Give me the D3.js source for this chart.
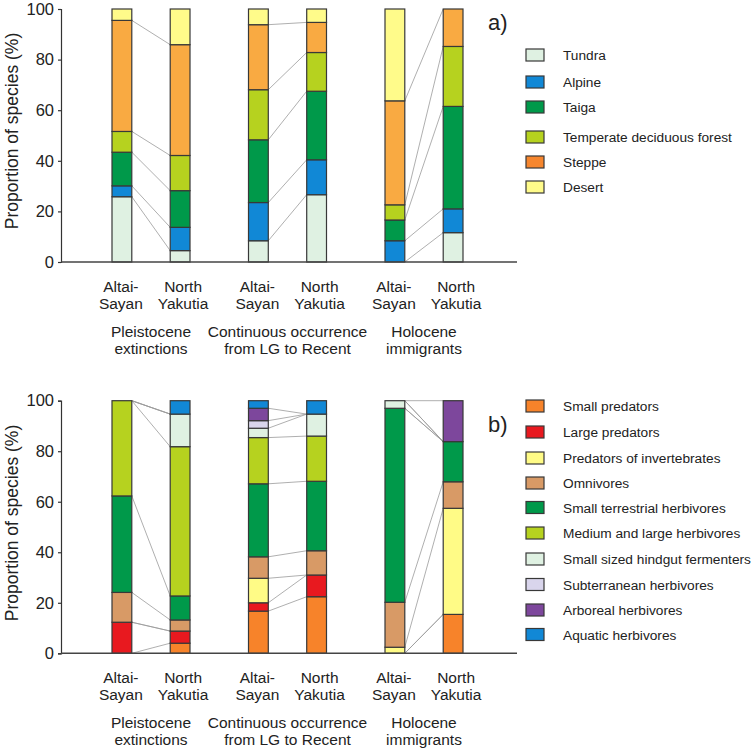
<!DOCTYPE html>
<html><head><meta charset="utf-8">
<script src="https://cdn.jsdelivr.net/npm/d3@7"></script>
<style>body{margin:0;background:#fff;} svg{display:block;font-family:"Liberation Sans",Arial,sans-serif;}</style>
</head><body><svg id="c" width="755" height="754"></svg>
<script>
// ---- data ----
const groups = [["Pleistocene","extinctions"],["Continuous occurrence","from LG to Recent"],["Holocene","immigrants"]];
const sites = [["Altai-","Sayan"],["North","Yakutia"]];
const yTicks = [0,20,40,60,80,100];
// bar order: Pleistocene AS, NY; Continuous AS, NY; Holocene AS, NY
const habitats = ["Tundra","Alpine","Taiga","Temperate deciduous forest","Steppe","Desert"];
const habitatColors = ["#dff1e2","#1188d6","#00994a","#b6d21f","#f9aa42","#fffb8a"];
const habitatLegendColors = ["#dff1e2","#1188d6","#00994a","#b6d21f","#f6862e","#fffb8a"];
const tundra    = [25.8, 4.5, 8.4, 26.6, 0.0, 11.6];
const alpine    = [4.3, 9.2, 15.1, 13.8, 8.4, 9.4];
const taiga     = [13.3, 14.5, 24.8, 27.1, 8.2, 40.5];
const temperate = [8.2, 13.9, 19.8, 15.3, 6.0, 23.7];
const steppe    = [43.9, 43.8, 25.7, 11.9, 41.1, 14.8];
const desert    = [4.5, 14.1, 6.2, 5.3, 36.3, 0.0];

const feeding = ["Small predators","Large predators","Predators of invertebrates","Omnivores","Small terrestrial herbivores","Medium and large herbivores","Small sized hindgut fermenters","Subterranean herbivores","Arboreal herbivores","Aquatic herbivores"];
const feedingColors = ["#f7832a","#e8191f","#fffb86","#d89a66","#00994a","#b6d21f","#dff1e2","#d9d5ec","#7d479c","#1188d6"];
const smallPred   = [0.0, 4.0, 16.7, 22.4, 0.0, 15.4];
const largePred   = [12.3, 4.8, 3.3, 8.6, 0.0, 0.0];
const predInv     = [0.0, 0.0, 9.7, 0.0, 2.4, 42.0];
const omnivores   = [11.8, 4.4, 8.5, 9.6, 17.8, 10.5];
const smallTerr   = [38.2, 9.5, 28.9, 27.5, 76.8, 15.9];
const mediumLarge = [37.7, 59.1, 18.3, 17.9, 0.0, 0.0];
const hindgut     = [0.0, 12.9, 3.7, 8.7, 3.0, 0.0];
const subterr     = [0.0, 0.0, 3.0, 0.0, 0.0, 0.0];
const arboreal    = [0.0, 0.0, 4.9, 0.0, 0.0, 16.2];
const aquatic     = [0.0, 5.3, 3.0, 5.3, 0.0, 0.0];

const habitatSeries = [tundra, alpine, taiga, temperate, steppe, desert];
const feedingSeries = [smallPred, largePred, predInv, omnivores, smallTerr, mediumLarge, hindgut, subterr, arboreal, aquatic];

// ---- drawing ----
const svg = d3.select("#c");
const axisX = 61, axisRight = 517;
const gx = d3.scaleBand().domain(d3.range(groups.length)).range([82.75, 492.25]);
const sx = d3.scaleBand().domain(d3.range(sites.length)).range([-39, 39]).paddingInner(0.66).paddingOuter(0);
const barX = i => gx(Math.floor(i/2)) + gx.bandwidth()/2 + sx(i%2);
const bw = sx.bandwidth();

function panel(top, bottom, series, names, colors, legendColors, letter, letterY, legendRows, legendFont, titleY) {
  const y = d3.scaleLinear().domain([0,100]).range([bottom, top]);
  const g = svg.append("g");
  // y axis
  const ax = g.append("g").attr("transform", `translate(${axisX},0)`)
    .call(d3.axisLeft(y).tickValues(yTicks).tickSize(3).tickPadding(4));
  ax.select(".domain").attr("stroke","#333").attr("stroke-width",1.2);
  ax.selectAll(".tick line").attr("stroke","#333").attr("stroke-width",1.2);
  ax.selectAll(".tick text").attr("font-size",16.5).attr("fill","#222").attr("font-family","Liberation Sans, Arial, sans-serif");
  g.append("text").attr("transform",`translate(18,${titleY}) rotate(-90)`).attr("text-anchor","middle")
    .attr("font-size",17.5).attr("fill","#222").text("Proportion of species (%)");
  // stacks
  const nBars = series[0].length;
  const stacks = d3.range(nBars).map(b => {
    let acc = 0;
    return series.map((s,k) => { const y0 = acc; acc += s[b]; return {k, y0, y1: acc, b}; });
  });
  // connectors
  for (let p = 0; p < nBars; p += 2) {
    for (let k = 0; k < series.length - 1; k++) {
      g.append("line")
        .attr("x1", barX(p) + bw).attr("y1", y(stacks[p][k].y1))
        .attr("x2", barX(p+1)).attr("y2", y(stacks[p+1][k].y1))
        .attr("stroke","#9a9a9a").attr("stroke-width",0.8);
    }
  }
  // bars
  stacks.forEach(st => {
    g.selectAll(null).data(st.filter(d => d.y1 - d.y0 > 0)).enter().append("rect")
      .attr("x", d => barX(d.b)).attr("width", bw)
      .attr("y", d => y(d.y1)).attr("height", d => y(d.y0) - y(d.y1))
      .attr("fill", d => colors[d.k]).attr("stroke","#383838").attr("stroke-width",1.2);
  });
  // baseline
  g.append("line").attr("x1",axisX).attr("x2",axisRight).attr("y1",y(0)).attr("y2",y(0))
    .attr("stroke","#444").attr("stroke-width",1.5);
  // x labels
  d3.range(nBars).forEach(i => {
    const t = g.append("text").attr("text-anchor","middle").attr("font-size",15.5).attr("fill","#222");
    sites[i%2].forEach((ln,j) => t.append("tspan").attr("x", barX(i)+bw/2 + (i%2 ? 3 : -1)).attr("y", y(0)+30+j*16.5).text(ln));
  });
  groups.forEach((gr,i) => {
    const t = g.append("text").attr("text-anchor","middle").attr("font-size",15.5).attr("fill","#222");
    gr.forEach((ln,j) => t.append("tspan").attr("x", gx(i)+gx.bandwidth()/2).attr("y", y(0)+75+j*16.5).text(ln));
  });
  // letter
  g.append("text").attr("x",488).attr("y",letterY).attr("font-size",22).attr("fill","#222").text(letter);
  // legend
  names.forEach((n,i) => {
    const ly = legendRows[i];
    g.append("rect").attr("x",526).attr("y",ly-6).attr("width",18).attr("height",12)
      .attr("fill",legendColors[i]).attr("stroke","#383838").attr("stroke-width",1.2);
    g.append("text").attr("x",563).attr("y",ly+5).attr("font-size",legendFont).attr("fill","#222").text(n);
  });
}

panel(9, 262, habitatSeries, habitats, habitatColors, habitatLegendColors, "a)", 30,
      [55, 82, 107, 137, 162, 187], 13.7, 131);
panel(400.7, 653.3, feedingSeries, feeding, feedingColors, feedingColors, "b)", 432,
      [406, 432, 458, 483, 507.5, 533, 559, 584.5, 610, 634.5], 13.7, 523);
</script></body></html>
